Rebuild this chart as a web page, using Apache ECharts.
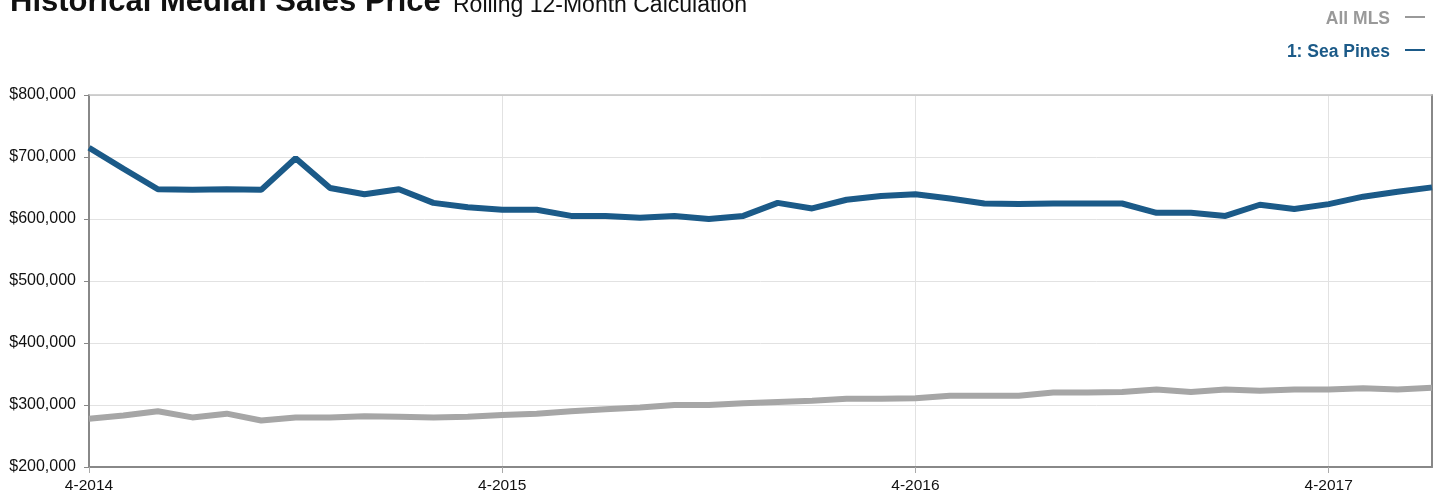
<!DOCTYPE html>
<html><head><meta charset="utf-8">
<script src="https://cdn.jsdelivr.net/npm/echarts@6/dist/echarts.min.js"></script>
<style>html,body{margin:0;padding:0;background:#fff}#c{width:1437px;height:495px}</style>
</head><body><div id="c"></div>
<script>
const categories = ['4-2014','5-2014','6-2014','7-2014','8-2014','9-2014','10-2014','11-2014','12-2014','1-2015','2-2015','3-2015',
  '4-2015','5-2015','6-2015','7-2015','8-2015','9-2015','10-2015','11-2015','12-2015','1-2016','2-2016','3-2016',
  '4-2016','5-2016','6-2016','7-2016','8-2016','9-2016','10-2016','11-2016','12-2016','1-2017','2-2017','3-2017',
  '4-2017','5-2017','6-2017','7-2017'];
const allMls = [278000,283000,290000,280000,286000,275000,280000,280000,282000,281000,280000,281000,
  284000,286000,290000,293000,296000,300000,300000,303000,305000,307000,310000,310000,
  311000,315000,315000,315000,320000,320000,321000,325000,321000,325000,323000,325000,
  325000,327000,325000,328000];
const seaPines = [715000,681000,648000,647000,648000,647000,698000,650000,640000,648000,626000,619000,
  615000,615000,605000,605000,602000,605000,600000,605000,626000,617000,631000,637000,
  640000,633000,625000,624000,625000,625000,625000,610000,610000,605000,623000,616000,
  624000,636000,644000,651000];
const yMin = 200000, yMax = 800000, yStep = 100000;
const seriesNames = ['All MLS', '1: Sea Pines'];
const titleText = 'Historical Median Sales Price';
const subtitleText = 'Rolling 12-Month Calculation';

const BLUE = '#1B5A88', GRAY = '#A6A6A6';
const fmt = v => '$' + String(v).replace(/\B(?=(\d{3})+(?!\d))/g, ',');
const SANS = '"Liberation Sans", Arial, sans-serif';

const chart = echarts.init(document.getElementById('c'), null, {renderer: 'canvas'});
chart.setOption({
  animation: false,
  grid: {left: 89, right: 5, top: 95, bottom: 28, containLabel: false},
  xAxis: [{
    type: 'category', data: categories, boundaryGap: false,
    axisLine: {lineStyle: {color: '#888', width: 2}},
    axisTick: {show: true, interval: 11, length: 6, lineStyle: {color: '#aaa'}},
    axisLabel: {interval: 11, margin: 11, color: '#111', fontFamily: SANS, fontSize: 15.5},
    splitLine: {show: true, interval: 11, lineStyle: {color: '#e2e2e2', width: 1}}
  }, {
    type: 'category', data: categories, boundaryGap: false, position: 'top',
    axisLine: {lineStyle: {color: '#c4c4c4', width: 1.5}},
    axisTick: {show: false}, axisLabel: {show: false}, splitLine: {show: false}
  }],
  yAxis: [{
    type: 'value', min: yMin, max: yMax, interval: yStep,
    axisLine: {show: true, lineStyle: {color: '#888', width: 2}},
    axisTick: {show: true, length: 5, lineStyle: {color: '#888'}},
    axisLabel: {margin: 13, color: '#111', fontFamily: SANS, fontSize: 16, formatter: fmt},
    splitLine: {show: true, lineStyle: {color: '#e2e2e2', width: 1}}
  }, {
    type: 'value', min: yMin, max: yMax, interval: yStep, position: 'right',
    axisLine: {show: true, lineStyle: {color: '#888', width: 2}},
    axisTick: {show: false}, axisLabel: {show: false}, splitLine: {show: false}
  }],
  series: [
    {name: seriesNames[0], type: 'line', data: allMls, showSymbol: false, symbol: 'none',
     lineStyle: {color: GRAY, width: 6}, itemStyle: {color: GRAY}},
    {name: seriesNames[1], type: 'line', data: seaPines, showSymbol: false, symbol: 'none',
     lineStyle: {color: BLUE, width: 6}, itemStyle: {color: BLUE}}
  ],
  graphic: [
    {type: 'text', left: 10, top: -13, style: {text: titleText, font: 'bold 31px ' + SANS, fill: '#111'}},
    {type: 'text', left: 453, top: -6, style: {text: subtitleText, font: '23px ' + SANS, fill: '#111'}},
    {type: 'text', right: 1437 - 1390, top: 10, style: {text: seriesNames[0], font: 'bold 17.5px ' + SANS, fill: '#999', textAlign: 'right'}},
    {type: 'text', right: 1437 - 1390, top: 43, style: {text: seriesNames[1], font: 'bold 17.5px ' + SANS, fill: BLUE, textAlign: 'right'}},
    {type: 'line', shape: {x1: 1405, y1: 17, x2: 1425, y2: 17}, style: {stroke: '#999', lineWidth: 2}},
    {type: 'line', shape: {x1: 1405, y1: 50, x2: 1425, y2: 50}, style: {stroke: BLUE, lineWidth: 2}}
  ]
});
</script></body></html>
